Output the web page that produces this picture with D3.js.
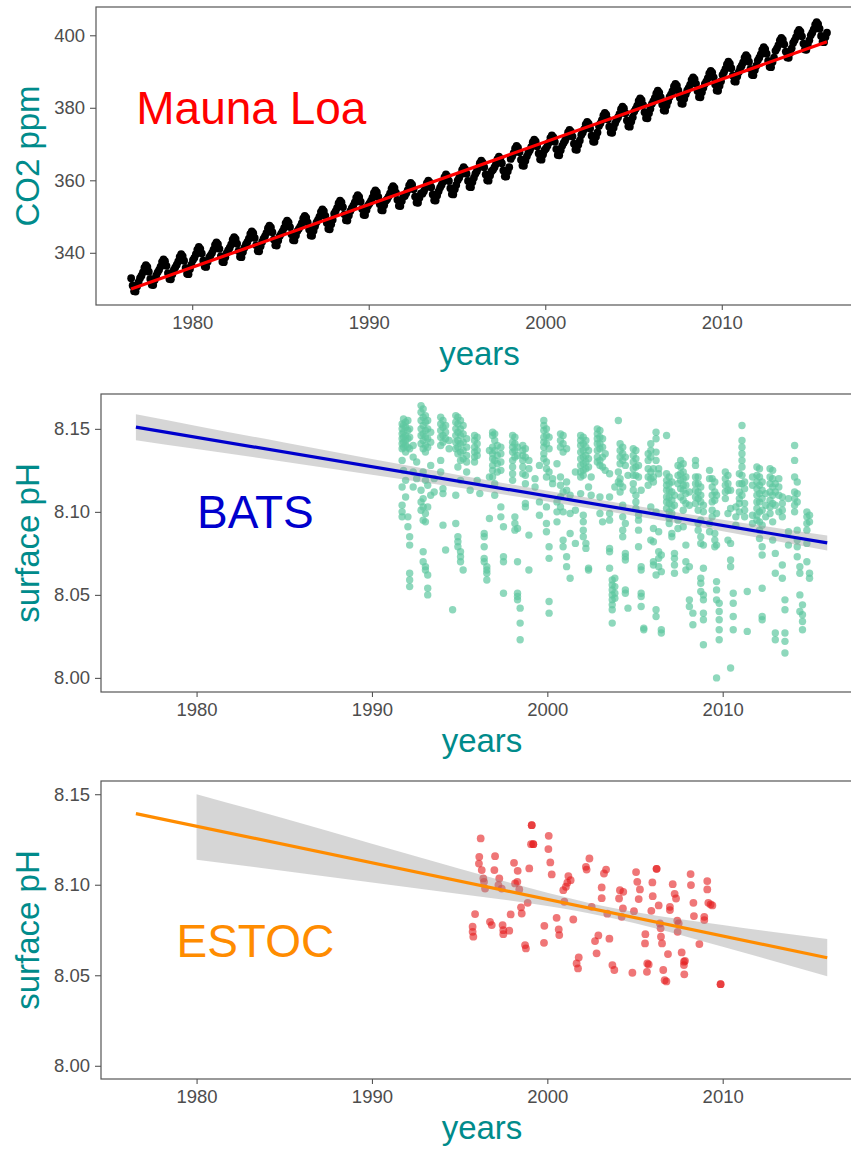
<!DOCTYPE html>
<html>
<head>
<meta charset="utf-8">
<script src="https://d3js.org/d3.v7.min.js" charset="utf-8"></script>
<style>
  body {margin:0; background:#fff;}
  text {font-family:"Liberation Sans", Arial, sans-serif;}
</style>
</head>
<body>
<div id="chart"></div>
<script>

// ---- Mauna Loa CO2, monthly means (first row starts in July 1976) ----
const co2Years = [1976,1977,1978,1979,1980,1981,1982,1983,1984,1985,1986,1987,1988,1989,1990,
  1991,1992,1993,1994,1995,1996,1997,1998,1999,2000,2001,2002,2003,2004,2005,2006,2007,2008,
  2009,2010,2011,2012,2013,2014,2015];
const co2Monthly = [
  [333.0,331.0,329.4,329.3,330.7,331.9],
  [333.0,333.7,334.6,335.9,336.6,336.1,334.8,332.8,331.2,331.1,332.5,333.7],
  [334.6,335.3,336.2,337.5,338.2,337.7,336.4,334.4,332.8,332.7,334.1,335.3],
  [336.0,336.7,337.6,338.9,339.6,339.1,337.8,335.8,334.2,334.1,335.5,336.7],
  [338.0,338.6,339.6,340.9,341.6,341.1,339.8,337.8,336.2,336.1,337.5,338.7],
  [339.3,340.0,340.9,342.2,342.9,342.4,341.1,339.1,337.5,337.4,338.8,340.0],
  [340.7,341.4,342.3,343.6,344.3,343.8,342.5,340.5,338.9,338.8,340.2,341.4],
  [342.3,343.0,343.9,345.2,345.9,345.4,344.1,342.1,340.5,340.4,341.8,343.0],
  [343.9,344.6,345.5,346.8,347.5,347.0,345.7,343.7,342.1,342.0,343.4,344.6],
  [345.3,346.0,346.9,348.2,348.9,348.4,347.1,345.1,343.5,343.4,344.8,346.0],
  [346.6,347.3,348.2,349.5,350.2,349.7,348.4,346.4,344.8,344.7,346.1,347.3],
  [348.4,349.1,350.0,351.3,352.0,351.5,350.2,348.2,346.6,346.5,347.9,349.1],
  [350.8,351.5,352.4,353.7,354.4,353.9,352.6,350.6,349.0,348.9,350.3,351.5],
  [352.3,353.0,353.9,355.2,355.9,355.4,354.1,352.1,350.5,350.4,351.8,353.0],
  [353.6,354.3,355.2,356.5,357.2,356.7,355.4,353.4,351.8,351.7,353.1,354.3],
  [354.8,355.5,356.4,357.7,358.4,357.9,356.6,354.6,353.0,352.9,354.3,355.5],
  [355.7,356.4,357.3,358.6,359.3,358.8,357.5,355.5,353.9,353.8,355.2,356.4],
  [356.3,357.0,357.9,359.2,359.9,359.4,358.1,356.1,354.5,354.4,355.8,357.0],
  [358.0,358.7,359.6,360.9,361.6,361.1,359.8,357.8,356.2,356.1,357.5,358.7],
  [360.0,360.7,361.6,362.9,363.6,363.1,361.8,359.8,358.2,358.1,359.5,360.7],
  [361.8,362.5,363.4,364.7,365.4,364.9,363.6,361.6,360.0,359.9,361.3,362.5],
  [362.9,363.6,364.5,365.8,366.5,366.0,364.7,362.7,361.1,361.0,362.4,363.6],
  [365.9,366.6,367.5,368.8,369.5,369.0,367.7,365.7,364.1,364.0,365.4,366.6],
  [367.6,368.3,369.2,370.5,371.2,370.7,369.4,367.4,365.8,365.7,367.1,368.3],
  [368.8,369.5,370.4,371.7,372.4,371.9,370.6,368.6,367.0,366.9,368.3,369.5],
  [370.3,371.0,371.9,373.2,373.9,373.4,372.1,370.1,368.5,368.4,369.8,371.0],
  [372.5,373.2,374.1,375.4,376.1,375.6,374.3,372.3,370.7,370.6,372.0,373.2],
  [375.0,375.7,376.6,377.9,378.6,378.1,376.8,374.8,373.2,373.1,374.5,375.7],
  [376.7,377.4,378.3,379.6,380.3,379.8,378.5,376.5,374.9,374.8,376.2,377.4],
  [379.0,379.7,380.6,381.9,382.6,382.1,380.8,378.8,377.2,377.1,378.5,379.7],
  [381.1,381.8,382.7,384.0,384.7,384.2,382.9,380.9,379.3,379.2,380.6,381.8],
  [383.0,383.7,384.6,385.9,386.6,386.1,384.8,382.8,381.2,381.1,382.5,383.7],
  [384.8,385.5,386.4,387.7,388.4,387.9,386.6,384.6,383.0,382.9,384.3,385.5],
  [386.6,387.3,388.2,389.5,390.2,389.7,388.4,386.4,384.8,384.7,386.1,387.3],
  [389.1,389.8,390.7,392.0,392.7,392.2,390.9,388.9,387.3,387.2,388.6,389.8],
  [390.9,391.6,392.5,393.8,394.5,394.0,392.7,390.7,389.1,389.0,390.4,391.6],
  [393.1,393.8,394.7,396.0,396.7,396.2,394.9,392.9,391.3,391.2,392.6,393.8],
  [395.7,396.4,397.3,398.6,399.3,398.8,397.5,395.5,393.9,393.8,395.2,396.4],
  [397.9,398.6,399.5,400.8,401.5,401.0,399.7,397.7,396.1,396.0,397.4,398.6],
  [400.0,400.7,401.6,402.9,403.6,403.1,401.8,399.8,398.2,398.1,399.5,400.7]
];
const co2FitYears = [1976.54, 2015.96];
const co2FitPpm = [330.0, 398.2];

// ---- BATS surface pH, grouped by cruise (year, values) ----
const batsYears = [1991.72,1991.80,1991.92,1992.05,1992.15,1992.35,1992.55,1992.80,1992.92,1993.05,
  1993.18,1993.35,1993.55,1993.92,1994.05,1994.20,1994.40,1994.60,1994.78,1994.90,1995.05,1995.20,
  1995.40,1995.60,1995.85,1996.00,1996.15,1996.40,1996.55,1996.88,1997.00,1997.15,1997.35,1997.50,
  1998.02,1998.15,1998.30,1998.45,1998.60,1998.75,1998.95,1999.30,1999.80,1999.95,2000.10,2000.30,
  2000.55,2000.75,2000.90,2001.10,2001.30,2001.90,2002.05,2002.20,2002.35,2002.50,2002.85,2003.00,
  2003.15,2003.30,2003.55,2003.70,2003.85,2004.05,2004.15,2004.30,2004.45,2004.60,2004.90,2005.05,
  2005.20,2005.35,2005.50,2005.75,2005.90,2006.05,2006.20,2006.35,2006.50,2006.80,2006.95,2007.10,
  2007.25,2007.60,2007.75,2007.90,2008.10,2008.30,2008.45,2008.60,2008.75,2008.90,2009.40,2009.55,
  2009.65,2009.80,2010.15,2010.30,2010.45,2010.60,2010.95,2011.10,2011.25,2011.40,2011.95,2012.10,
  2012.25,2012.70,2012.85,2013.00,2013.40,2013.55,2014.10,2014.25,2014.40,2014.55,2014.80,2014.95,
  1996.70,1999.55,2001.60,2007.45,2009.25,2010.75,2011.70,2012.45,2013.20,2013.75];
const batsPh = [
  [8.153,8.150,8.147,8.144,8.141,8.138,8.131,8.115,8.104,8.100,8.097],
  [8.156,8.152,8.148,8.145,8.142,8.139,8.125],
  [8.154,8.151,8.146,8.143,8.140,8.136,8.119,8.109],
  [8.155,8.149,8.144,8.139,8.097,8.091],
  [8.150,8.145,8.138,8.085,8.080,8.063,8.059,8.055],
  [8.140,8.133,8.124,8.115],
  [8.130,8.120],
  [8.164,8.160,8.155,8.150,8.146,8.141,8.113,8.106,8.101],
  [8.162,8.157,8.152,8.147,8.143,8.138,8.124,8.108,8.103,8.095,8.076,8.070],
  [8.158,8.154,8.149,8.145,8.140,8.136,8.119,8.099,8.094,8.067,8.065],
  [8.155,8.150,8.144,8.139,8.116,8.103,8.062,8.054,8.050],
  [8.148,8.142,8.128,8.110],
  [8.120,8.112],
  [8.157,8.153,8.149,8.145,8.140,8.131,8.124],
  [8.155,8.151,8.146,8.142,8.114,8.111,8.092],
  [8.152,8.148,8.144,8.077],
  [8.143,8.138],
  [8.041],
  [8.158,8.154,8.150,8.146,8.142,8.138,8.110,8.093],
  [8.157,8.153,8.148,8.143,8.139,8.135,8.127,8.085,8.082,8.079],
  [8.155,8.150,8.146,8.141,8.136,8.131,8.119,8.076,8.073,8.070],
  [8.152,8.147,8.142,8.137,8.132,8.065],
  [8.144,8.139,8.134,8.130,8.124],
  [8.113],
  [8.146,8.143,8.139,8.136,8.133,8.130],
  [8.145,8.141,8.137,8.134,8.119],
  [8.111],
  [8.087,8.085,8.079,8.072,8.070],
  [8.067,8.065,8.063,8.059],
  [8.148,8.146,8.139,8.135,8.132,8.128,8.125,8.121],
  [8.147,8.143,8.137,8.131,8.117,8.110],
  [8.140,8.134,8.129,8.124],
  [8.139,8.135,8.130,8.125,8.103,8.097],
  [8.091,8.073,8.070,8.051],
  [8.146,8.142,8.139,8.136,8.131,8.127,8.123,8.119],
  [8.145,8.141,8.137,8.133,8.097,8.093,8.089],
  [8.139,8.134,8.090,8.070,8.051,8.049,8.047],
  [8.042,8.033,8.023],
  [8.140,8.137,8.134,8.131,8.127,8.123],
  [8.138,8.133,8.122,8.117,8.105,8.103],
  [8.131,8.126,8.086,8.065],
  [8.120,8.115],
  [8.155,8.152,8.149,8.145,8.142,8.139,8.135,8.132],
  [8.150,8.146,8.141,8.130,8.126,8.121,8.103,8.093,8.088],
  [8.145,8.138,8.124,8.079,8.072,8.046,8.039],
  [8.120,8.117],
  [8.129,8.106,8.100,8.094],
  [8.147,8.143,8.139,8.121,8.116,8.109,8.103],
  [8.146,8.141,8.136,8.112,8.100,8.083,8.079],
  [8.138,8.118,8.113,8.073,8.067],
  [8.110,8.099,8.087,8.060],
  [8.146,8.143,8.140,8.136,8.132,8.128,8.124,8.121,8.111],
  [8.145,8.141,8.137,8.133,8.129,8.125,8.122,8.098,8.094,8.089,8.085],
  [8.143,8.139,8.134,8.130,8.126,8.081,8.078],
  [8.137,8.132,8.127,8.115,8.066,8.065],
  [8.121,8.110],
  [8.150,8.147,8.144,8.141,8.137,8.133,8.130],
  [8.149,8.145,8.141,8.138,8.131,8.128,8.109,8.099],
  [8.144,8.139,8.133,8.127,8.094],
  [8.135,8.125],
  [8.123,8.109,8.099,8.095,8.078,8.076,8.066],
  [8.059,8.056,8.053,8.050,8.047,8.044,8.041,8.033],
  [8.115,8.060,8.055,8.051,8.048],
  [8.155,8.124,8.118],
  [8.141,8.137,8.133,8.129,8.120,8.117,8.112],
  [8.139,8.135,8.131,8.115,8.104,8.097,8.089,8.085],
  [8.133,8.128,8.093,8.075,8.073,8.071,8.053,8.051],
  [8.122,8.042],
  [8.138,8.134,8.130,8.126,8.122,8.117,8.113],
  [8.137,8.132,8.127,8.122,8.110,8.106,8.102],
  [8.128,8.121,8.098,8.095,8.089,8.079],
  [8.113,8.067,8.065,8.051,8.049,8.043],
  [8.030,8.029],
  [8.135,8.131,8.126,8.121,8.116],
  [8.141,8.137,8.133,8.124,8.120,8.103,8.083],
  [8.126,8.121,8.118,8.090,8.082,8.070,8.068],
  [8.148,8.144,8.136,8.131,8.100,8.062,8.041,8.037],
  [8.126,8.123,8.088,8.076,8.072,8.067],
  [8.074,8.064,8.029,8.027],
  [8.146,8.123,8.119,8.116,8.113,8.109,8.106,8.102],
  [8.121,8.117,8.113,8.109,8.105,8.100,8.096,8.093],
  [8.118,8.112,8.107,8.103,8.099,8.087,8.085],
  [8.110,8.104,8.075,8.072,8.068,8.063],
  [8.131,8.127,8.123,8.119,8.114,8.109],
  [8.129,8.124,8.120,8.116,8.113,8.107,8.101,8.091],
  [8.121,8.116,8.111,8.105,8.080,8.070,8.065],
  [8.112,8.104,8.067,8.047,8.043],
  [8.039,8.032],
  [8.131,8.128,8.121,8.117,8.113,8.109,8.105],
  [8.121,8.117,8.112,8.108,8.101,8.093,8.089],
  [8.115,8.110,8.106,8.095,8.085,8.081,8.060,8.057,8.052],
  [8.104,8.100,8.080,8.066,8.050,8.047,8.039,8.035,8.020],
  [8.120,8.115,8.110,8.106,8.101,8.097],
  [8.118,8.112,8.107,8.087,8.083,8.079],
  [8.110,8.099,8.080,8.058,8.053,8.047,8.000],
  [8.045,8.040,8.035,8.029,8.023],
  [8.124,8.120,8.116,8.112,8.108],
  [8.122,8.117,8.113,8.099,8.083],
  [8.113,8.102,8.081,8.071,8.067,8.006],
  [8.051,8.045,8.037,8.029],
  [8.123,8.117,8.112,8.108,8.105,8.100],
  [8.152,8.143,8.139,8.135,8.131,8.127,8.122,8.117,8.110],
  [8.118,8.114,8.105,8.101,8.097],
  [8.052,8.028],
  [8.127,8.122,8.118,8.114,8.110,8.106,8.102,8.098,8.095],
  [8.126,8.121,8.116,8.111,8.106,8.100,8.094,8.089,8.084],
  [8.118,8.113,8.108,8.101,8.092,8.079,8.074,8.054,8.037,8.035],
  [8.126,8.121,8.117,8.112,8.107,8.103,8.099],
  [8.125,8.120,8.115,8.110,8.105,8.094,8.083],
  [8.117,8.112,8.104,8.075,8.063,8.027,8.023],
  [8.109,8.105,8.101,8.097,8.068,8.060],
  [8.047,8.041,8.027,8.022,8.015],
  [8.140,8.131,8.121,8.112,8.108,8.104,8.100],
  [8.118,8.111,8.106,8.089,8.083,8.079,8.073],
  [8.067,8.063,8.050,8.040],
  [8.044,8.038,8.034,8.029],
  [8.100,8.097,8.093,8.089,8.081,8.070],
  [8.098,8.094,8.063,8.060],
  [8.137,8.121,8.096],
  [8.128,8.106,8.098],
  [8.124,8.101,8.081],
  [8.128,8.122,8.117,8.095,8.090],
  [8.125,8.120,8.093,8.088],
  [8.103,8.097,8.092],
  [8.121,8.116,8.098,8.093],
  [8.111,8.104,8.097],
  [8.120,8.115,8.110,8.100],
  [8.108,8.088,8.080]
];
const batsFitYears = [1976.54, 2015.96];
const batsFitPh = [8.151, 8.0813];
const batsBandYears = [1976.54, 1980, 1985, 1990, 1995, 2000, 2003.5, 2007, 2010, 2015.96];
const batsBandLow  = [8.1432, 8.1379, 8.1302, 8.1224, 8.1145, 8.1063, 8.1002, 8.0939, 8.0883, 8.0768];
const batsBandHigh = [8.1588, 8.1518, 8.1418, 8.1318, 8.1221, 8.1127, 8.1064, 8.1003, 8.0953, 8.0858];

// ---- ESTOC surface pH ----
const estocYears = [1996.20,1996.12,1996.10,1996.26,1996.35,1996.39,1996.45,1995.88,1995.74,1995.74,
  1995.78,1996.73,1996.83,1997.02,1996.98,1997.26,1997.21,1997.40,1997.45,1997.49,1997.49,1997.83,
  1997.91,1998.10,1998.31,1998.16,1998.29,1998.40,1998.50,1998.54,1998.73,1998.78,1998.88,1998.97,
  1999.11,1999.11,1999.07,1999.20,1999.20,2000.08,2000.06,2000.17,2000.25,1999.83,1999.81,2000.53,
  2000.65,2000.68,2000.91,2001.06,2001.14,2001.20,2001.33,2000.97,2001.48,2001.79,2001.67,2001.75,
  2002.40,2002.20,2002.24,2002.53,2002.72,2002.91,2002.81,2003.54,2003.10,2003.10,2003.23,2003.35,
  2003.42,2003.71,2003.82,2004.09,2004.14,2004.33,2004.31,2004.24,2004.85,2004.94,2005.06,2005.13,
  2005.21,2005.28,2005.59,2005.57,2005.70,2005.78,2005.68,2005.93,2005.99,2006.01,2006.23,2006.23,
  2006.35,2006.42,2006.46,2006.48,2006.54,2006.88,2006.61,2006.69,2006.79,2006.99,2006.99,2007.15,
  2007.26,2007.34,2007.41,2007.49,2007.43,2007.66,2007.79,2007.85,2007.79,2007.81,2008.17,2008.19,
  2008.33,2008.36,2008.67,2008.95,2008.95,2009.12,2009.12,2009.18,2009.31,2009.41,2009.88,2009.88];
const estocPh = [8.1256,8.1154,8.1117,8.1081,8.1035,8.1016,8.0979,8.0838,8.0768,8.0740,
  8.0713,8.0795,8.0777,8.1158,8.1081,8.1035,8.0998,8.0979,8.0777,8.0749,8.0727,8.0746,
  8.0836,8.1121,8.1077,8.1007,8.1016,8.0974,8.0875,8.0841,8.0667,8.0648,8.0900,8.1090,
  8.1329,8.1329,8.1224,8.1224,8.1224,8.1270,8.1197,8.1123,8.1057,8.0773,8.0679,8.0817,
  8.0753,8.0722,8.0970,8.0989,8.1011,8.1048,8.1025,8.0906,8.0808,8.0598,8.0565,8.0538,
  8.1145,8.1099,8.1084,8.0878,8.0689,8.0720,8.0621,8.0702,8.0985,8.0926,8.1062,8.1084,
  8.0840,8.0556,8.0529,8.0924,8.0970,8.0961,8.0869,8.0823,8.0514,8.0854,8.1070,8.1016,
  8.0921,8.0974,8.0727,8.0676,8.0565,8.0560,8.0519,8.0856,8.1013,8.0937,8.1088,8.1088,
  8.0886,8.0786,8.0759,8.0713,8.0676,8.0617,8.0529,8.0473,8.0466,8.0860,8.0878,8.1003,
  8.0950,8.0924,8.0801,8.0786,8.0740,8.0626,8.0575,8.0580,8.0556,8.0505,8.1059,8.0998,
  8.0900,8.0827,8.0672,8.0823,8.0805,8.1020,8.0974,8.0900,8.0891,8.0886,8.0451,8.0451];
const estocFitYears = [1976.54, 2015.96];
const estocFitPh = [8.1393, 8.0597];
const estocBandYears = [1980, 1985, 1990, 1995, 2000, 2003.25, 2005, 2010, 2015.96];
const estocBandLow  = [8.1138, 8.1076, 8.1013, 8.0949, 8.0882, 8.0825, 8.0787, 8.0657, 8.0494];
const estocBandHigh = [8.1500, 8.1366, 8.1227, 8.1089, 8.0956, 8.0881, 8.0849, 8.0777, 8.0700];

const yearTicks = [1980, 1990, 2000, 2010];
const co2Ticks = [340, 360, 380, 400];
const phTicks = [8.00, 8.05, 8.10, 8.15];

// ---- layout ----
const width = 851, height = 1149;
const titleColor = "#008b8b", tickColor = "#4d4d4d", frameColor = "#555";

const svg = d3.select("#chart").append("svg")
    .attr("width", width)
    .attr("height", height);

function makePanel(id, left, top, bottom, yDomain, yTicks, yFormat, yTitle) {
    const right = 863;
    const x = d3.scaleLinear().domain([1974.55, 2018]).range([left, right]);
    const y = d3.scaleLinear().domain(yDomain).range([bottom, top]);

    svg.append("clipPath").attr("id", "clip" + id)
      .append("rect")
        .attr("x", left).attr("y", top)
        .attr("width", right - left).attr("height", bottom - top);

    const plot = svg.append("g").attr("clip-path", `url(#clip${id})`);

    const xAxis = svg.append("g")
        .attr("transform", `translate(0,${bottom})`)
        .call(d3.axisBottom(x).tickValues(yearTicks).tickFormat(d3.format("d"))
            .tickSize(5).tickPadding(6));
    const yAxis = svg.append("g")
        .attr("transform", `translate(${left},0)`)
        .call(d3.axisLeft(y).tickValues(yTicks).tickFormat(yFormat)
            .tickSize(6).tickPadding(5));

    [xAxis, yAxis].forEach(a => {
        a.select(".domain").remove();
        a.selectAll(".tick line").attr("stroke", frameColor).attr("stroke-width", 1.1);
        a.selectAll(".tick text")
            .attr("fill", tickColor)
            .style("font-size", "18.5px")
            .style("font-family", '"Liberation Sans", Arial, sans-serif');
    });

    svg.append("text")
        .attr("x", (left + right) / 2)
        .attr("y", bottom + 60)
        .attr("text-anchor", "middle")
        .attr("fill", titleColor)
        .style("font-size", "33px")
        .text("years");

    svg.append("text")
        .attr("transform", `translate(39,${(top + bottom) / 2}) rotate(-90)`)
        .attr("text-anchor", "middle")
        .attr("fill", titleColor)
        .style("font-size", "33px")
        .text(yTitle);

    return {x, y, plot, frame: () => svg.append("rect")
        .attr("x", left).attr("y", top)
        .attr("width", right - left).attr("height", bottom - top)
        .attr("fill", "none").attr("stroke", frameColor).attr("stroke-width", 1.2)};
}

function drawFit(p, years, vals, color) {
    const pts = years.map((t, i) => [t, vals[i]]);
    p.plot.append("path")
        .datum(pts)
        .attr("d", d3.line().x(d => p.x(d[0])).y(d => p.y(d[1])))
        .attr("fill", "none")
        .attr("stroke", color)
        .attr("stroke-width", 3.2);
}

function drawBand(p, years, lo, hi) {
    const pts = years.map((t, i) => ({t, lo: lo[i], hi: hi[i]}));
    p.plot.append("path")
        .datum(pts)
        .attr("d", d3.area().curve(d3.curveMonotoneX)
            .x(d => p.x(d.t)).y0(d => p.y(d.lo)).y1(d => p.y(d.hi)))
        .attr("fill", "#999999")
        .attr("fill-opacity", 0.4);
}

function drawLabel(p, t, v, text, color) {
    p.plot.append("text")
        .attr("x", p.x(t))
        .attr("y", p.y(v))
        .attr("dy", "0.36em")
        .attr("text-anchor", "middle")
        .attr("fill", color)
        .style("font-size", "46px")
        .text(text);
}

// ---- panel 1: Mauna Loa ----
const p1 = makePanel(1, 96, 7, 305, [325.6, 407.8], co2Ticks, d3.format("d"), "CO2 ppm");
const co2Points = [];
co2Years.forEach((yr, i) => {
    const row = co2Monthly[i];
    const first = 12 - row.length;
    row.forEach((v, j) => co2Points.push({t: yr + (first + j + 0.5) / 12, v}));
});
p1.plot.append("g").selectAll("circle")
    .data(co2Points)
    .join("circle")
    .attr("cx", d => p1.x(d.t))
    .attr("cy", d => p1.y(d.v))
    .attr("r", 3.9)
    .attr("fill", "#000");
drawFit(p1, co2FitYears, co2FitPpm, "#ff0000");
drawLabel(p1, 1983.35, 380, "Mauna Loa", "#ff0000");
p1.frame();

// ---- panel 2: BATS ----
const p2 = makePanel(2, 101, 394, 692, [7.9915, 8.171], phTicks, d3.format(".2f"), "surface pH");
const batsPoints = [];
batsYears.forEach((yr, i) => batsPh[i].forEach(v => batsPoints.push({t: yr, v})));
p2.plot.append("g").selectAll("circle")
    .data(batsPoints)
    .join("circle")
    .attr("cx", d => p2.x(d.t))
    .attr("cy", d => p2.y(d.v))
    .attr("r", 3.7)
    .attr("fill", "#5ec8a0")
    .attr("fill-opacity", 0.7);
drawBand(p2, batsBandYears, batsBandLow, batsBandHigh);
drawFit(p2, batsFitYears, batsFitPh, "#0000cd");
drawLabel(p2, 1983.35, 8.10, "BATS", "#0000cd");
p2.frame();

// ---- panel 3: ESTOC ----
const p3 = makePanel(3, 101, 781, 1079, [7.9927, 8.1573], phTicks, d3.format(".2f"), "surface pH");
p3.plot.append("g").selectAll("circle")
    .data(estocYears.map((t, i) => ({t, v: estocPh[i]})))
    .join("circle")
    .attr("cx", d => p3.x(d.t))
    .attr("cy", d => p3.y(d.v))
    .attr("r", 3.9)
    .attr("fill", "#e41a1c")
    .attr("fill-opacity", 0.6);
drawBand(p3, estocBandYears, estocBandLow, estocBandHigh);
drawFit(p3, estocFitYears, estocFitPh, "#ff8c00");
drawLabel(p3, 1983.35, 8.069, "ESTOC", "#ff8c00");
p3.frame();

</script>
</body>
</html>
